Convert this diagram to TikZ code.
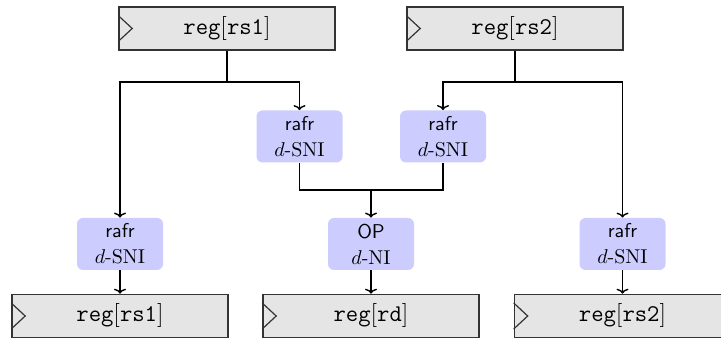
\documentclass[tikz,border=0pt]{standalone}
\usetikzlibrary{arrows.meta,positioning}
\def\reg#1{$\texttt{reg}[\texttt{#1}]$}
\def\gad#1#2{\textsf{#1}\\[1pt]$d$-#2}

\begin{document}
\begin{tikzpicture}[x=0.5pt,y=-0.5pt,>={To[length=2.5pt,width=6pt]}]
    \tikzstyle{regbox}=[rectangle,thick,draw=black!80,fill=gray!20,minimum width=108pt,minimum height=21.5pt,font=\large]
    \tikzstyle{gadget}=[rectangle,rounded corners=3pt,fill=blue!20,minimum width=43pt,minimum height=26pt,align=center,inner sep=1pt]
    \tikzstyle{wire}=[->,line width=0.7pt]
    \useasboundingbox (0,0) rectangle (721,340);
    % rows used by the wires
    \coordinate (splitrow) at (0,82);
    \coordinate (joinrow) at (0,190);
    % input registers
    \node[regbox] (regA) at (227,28.5) {\reg{rs1}};
    \node[regbox] (regB) at (515,28.5) {\reg{rs2}};
    % refresh gadgets and the operation
    \node[gadget] (safeA) at (299.5,136.5) {\gad{rafr}{SNI}};
    \node[gadget] (safeB) at (443,136.5) {\gad{rafr}{SNI}};
    \node[gadget] (rafrA) at (120,244) {\gad{rafr}{SNI}};
    \node[gadget] (op) at (371,244) {\gad{OP}{NI}};
    \node[gadget] (rafrB) at (622.5,244) {\gad{rafr}{SNI}};
    % output registers
    \node[regbox] (outA) at (120,316) {\reg{rs1}};
    \node[regbox] (outD) at (371,316) {\reg{rd}};
    \node[regbox] (outB) at (622.5,316) {\reg{rs2}};
    % clock marks
    \foreach \r in {regA,regB,outA,outD,outB}
        \draw[semithick,black!80] ([yshift=6.5pt]\r.west) -- ([xshift=7pt]\r.west) -- ([yshift=-6.5pt]\r.west);
    % wires
    \draw[wire] (regA.south) |- (rafrA |- splitrow) -- (rafrA.north);
    \draw[wire] (regA.south) |- (safeA |- splitrow) -- (safeA.north);
    \draw[wire] (regB.south) |- (safeB |- splitrow) -- (safeB.north);
    \draw[wire] (regB.south) |- (rafrB |- splitrow) -- (rafrB.north);
    \draw[line width=0.7pt] (safeA.south) |- (safeB |- joinrow) -- (safeB.south);
    \draw[wire] (op |- joinrow) -- (op.north);
    \draw[wire] (rafrA) -- (outA);
    \draw[wire] (op) -- (outD);
    \draw[wire] (rafrB) -- (outB);
\end{tikzpicture}
\end{document}
